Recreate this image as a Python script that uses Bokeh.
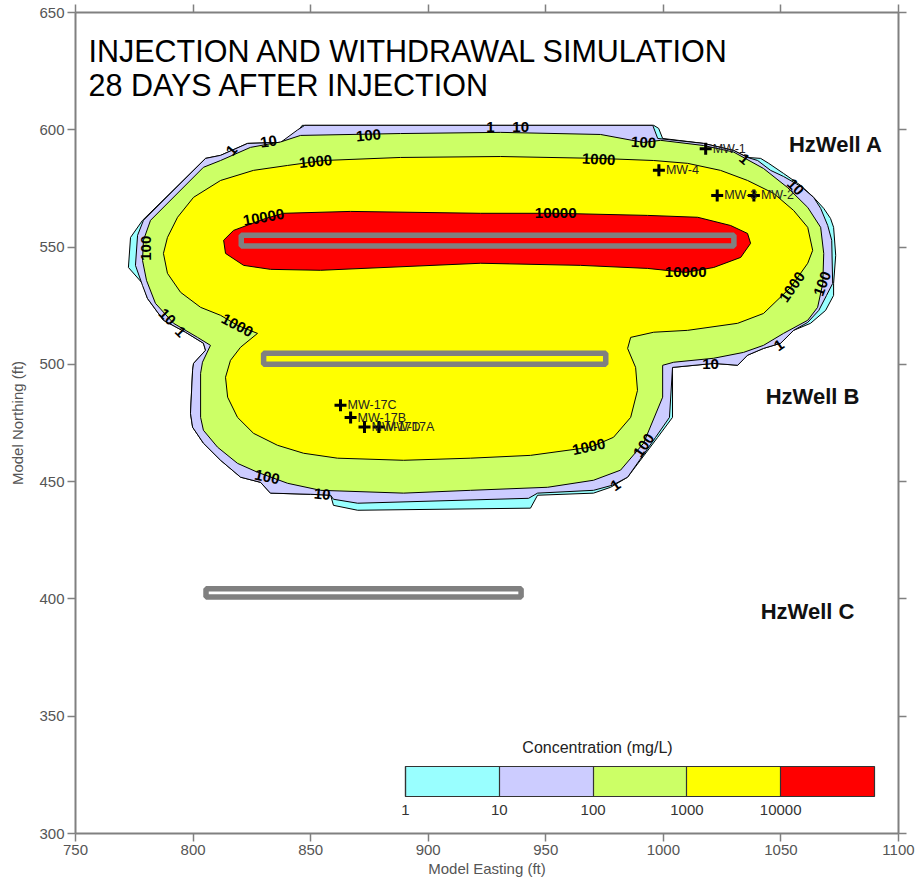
from bokeh.plotting import figure
from bokeh.models import (LinearAxis, Label, ColorBar, LinearColorMapper, FixedTicker, Range1d)
from bokeh.core.properties import value
from bokeh.embed import file_html
from bokeh.resources import INLINE

# ---------------- data ----------------
level_labels = ["1", "10", "100", "1000", "10000"]
band_colors = ["#99FFFF", "#CCCCFF", "#CCFF66", "#FFFF00", "#FF0000"]

# outer edge of the 1 mg/L band
c1_x = [846.4, 995.9, 998.0, 999.7, 1017.1, 1029.9, 1035.8, 1041.4, 1044.8, 1051.1, 1058.4,
        1063.9, 1068.2, 1071.1, 1072.4, 1073.3, 1072.4, 1072.4, 1069.0, 1062.6, 1055.4, 1049.9,
        1042.6, 1035.8, 1031.6, 1021.4, 1003.9, 1003.9, 997.6, 984.8, 977.6, 970.3, 946.5,
        943.5, 870.0, 859.7, 858.5, 850.0, 832.9, 828.7, 820.2, 811.7, 804.4, 799.8, 798.9,
        799.8, 800.2, 805.3, 804.4, 796.8, 787.4, 780.6, 778.5, 772.5, 773.4, 778.5, 805.3,
        811.7, 823.2, 837.2, 842.3]
c1_y = [601.9, 601.9, 600.6, 596.3, 594.2, 591.2, 588.2, 587.8, 585.7, 581.4, 576.3,
        571.2, 566.5, 562.2, 558.4, 546.5, 534.5, 529.4, 523.0, 517.5, 514.5, 509.0,
        506.8, 503.9, 499.6, 500.4, 498.7, 477.4, 468.9, 451.9, 447.6, 445.1, 444.2,
        438.7, 437.8, 439.9, 444.2, 444.6, 445.1, 449.7, 451.9, 459.1, 466.4, 473.2, 479.1,
        497.5, 500.4, 506.0, 509.0, 513.7, 518.8, 528.1, 534.5, 541.3, 554.1, 561.4, 587.8,
        589.1, 594.2, 594.6, 596.3]

# outer edge of the 10 mg/L band
c10_x = [847.5, 995.5, 997.6, 1017.1, 1029.9, 1035.8, 1040.1, 1045.6, 1051.1, 1058.4, 1063.9,
         1066.9, 1069.9, 1071.6, 1072.0, 1069.4, 1066.1, 1061.4, 1055.4, 1049.9, 1042.6,
         1035.8, 1031.6, 1021.4, 1003.9, 1002.6, 996.7, 984.8, 978.4, 970.3, 946.5, 942.7,
         870.0, 859.7, 858.5, 850.0, 832.9, 828.7, 820.2, 811.7, 804.4, 799.8, 798.9, 799.8,
         800.2, 805.3, 804.4, 796.8, 787.4, 780.6, 778.5, 775.5, 776.4, 778.9, 805.3, 811.7,
         823.2, 837.2, 844.5]
c10_y = [601.9, 601.9, 596.3, 594.2, 591.2, 588.2, 586.9, 582.7, 580.1, 575.9, 571.2,
         566.5, 559.2, 552.9, 534.5, 529.4, 523.0, 517.9, 514.5, 509.0, 506.8,
         503.9, 499.6, 500.4, 498.7, 477.4, 468.9, 451.9, 448.5, 446.3, 445.1, 442.9,
         440.8, 442.5, 444.2, 444.6, 445.1, 449.7, 451.9, 459.1, 466.4, 473.2, 479.1, 497.5,
         500.4, 506.0, 509.0, 513.7, 518.8, 528.1, 533.6, 542.2, 555.0, 561.4, 587.8, 589.1,
         594.2, 594.6, 600.0]

# outer edge of the 100 mg/L band
c100_x = [837.2, 845.7, 888.2, 930.8, 973.3, 991.6, 998.8, 1017.1, 1029.9, 1042.6, 1052.8,
          1061.4, 1066.9, 1068.2, 1067.8, 1065.6, 1061.4, 1051.1, 1042.6, 1034.1, 1021.4,
          1004.4, 999.7, 999.7, 991.6, 981.8, 970.3, 950.8, 918.0, 889.5, 854.2, 840.2,
          827.4, 818.9, 810.4, 804.4, 803.2, 803.2, 804.0, 807.4, 801.9, 791.7, 784.0,
          780.2, 778.5, 778.9, 781.9, 804.4, 811.7, 824.4]
c100_y = [594.8, 597.6, 598.4, 598.9, 598.0, 594.6, 595.5, 593.3, 590.5, 583.5, 575.4,
          566.9, 558.4, 547.3, 534.5, 524.3, 518.8, 513.2, 508.1, 505.1, 502.6,
          500.9, 499.6, 486.0, 466.4, 454.9, 450.6, 447.6, 446.3, 445.1, 446.3, 449.3,
          454.0, 457.8, 464.7, 471.9, 477.4, 496.2, 500.9, 508.1, 511.5, 517.5, 526.0,
          535.8, 544.3, 552.9, 561.4, 584.0, 586.9, 592.5]

# outer edge of the 1000 mg/L band
c1000_x = [855.5, 888.2, 930.8, 972.5, 995.9, 1010.3, 1024.3, 1035.8, 1046.9, 1055.4, 1061.4,
           1063.5, 1061.4, 1054.1, 1042.6, 1031.6, 1010.3, 995.9, 986.1, 984.8, 988.2, 989.0,
           986.1, 978.8, 969.1, 943.5, 918.0, 889.5, 861.4, 847.0, 835.9, 825.7, 818.9,
           814.7, 813.8, 815.9, 820.2, 827.4, 818.9, 811.7, 803.2, 794.7, 789.1, 787.4,
           789.1, 793.4, 800.2, 811.7, 825.7, 840.2]
c1000_y = [586.9, 588.2, 588.6, 587.8, 586.9, 585.7, 582.7, 578.4, 572.9, 565.6, 558.4,
           548.6, 543.1, 532.8, 521.7, 517.5, 514.5, 513.7, 511.5, 506.8, 498.7, 488.9,
           477.4, 468.9, 464.7, 461.2, 460.0, 459.1, 460.0, 462.1, 465.5, 470.6, 477.4,
           486.0, 494.5, 501.7, 507.3, 513.2, 516.6, 520.9, 524.3, 530.7, 538.8, 547.3,
           554.1, 562.7, 571.2, 578.4, 582.7, 584.8]

# outer edge of the 10000 mg/L band
c10000_x = [838.5, 867.0, 922.3, 954.2, 993.3, 1014.6, 1028.6, 1035.8, 1037.1, 1032.9, 1021.4,
            1009.5, 993.3, 964.8, 922.3, 854.2, 832.9, 821.5, 813.8, 813.0, 817.2, 830.8]
c10000_y = [564.4, 565.2, 564.4, 564.4, 563.5, 562.7, 559.2, 555.8, 551.6, 545.6, 541.3,
            539.2, 540.9, 542.2, 543.1, 540.1, 540.5, 542.2, 547.3, 552.9, 557.1, 562.2]

# contour labels
clab_text = ["1", "10", "100", "1", "10", "1000", "10000", "10000", "1000", "100", "1", "10",
             "100", "10", "1", "1000", "100", "10", "1000", "100", "1", "10", "1", "1000",
             "100", "10000"]
clab_x = [816.4, 832.1, 874.6, 926.5, 939.3, 852.1, 830.0, 954.2, 972.5, 991.6, 1034.5, 1056.2,
          780.0, 789.0, 794.7, 818.8, 831.5, 854.9, 968.3, 991.7, 979.7, 1020.1, 1049.2, 1054.8,
          1067.6, 1009.5]
clab_y = [591.2, 595.0, 597.6, 601.4, 601.4, 586.5, 562.7, 564.4, 587.4, 594.6, 587.5, 575.6,
          549.5, 520.2, 513.8, 516.6, 452.0, 444.6, 464.8, 465.5, 448.5, 500.3, 508.1, 533.0,
          534.4, 539.3]
clab_angle = [50, 8, 5, 0, 0, 5, 10, 0, -3, -3, -40, -45,
              90, -45, -45, -28, -12, -5, 12, 55, 35, 0, 35, 55,
              70, 0]

# horizontal wells
well_names = ["HzWell A", "HzWell B", "HzWell C"]
well_x0 = [820.5, 830.0, 805.5]
well_x1 = [1030.0, 975.5, 939.5]
well_y0 = [550.5, 500.0, 400.8]
well_y1 = [555.0, 504.7, 404.3]

# monitoring wells
mw_names = ["MW-1", "MW-4", "MW-3", "MW-2", "MW-17C", "MW-17B", "MW-17D", "MW-17A"]
mw_x = [1018.0, 998.1, 1022.9, 1038.5, 862.7, 867.0, 872.9, 879.0]
mw_y = [591.9, 582.7, 572.0, 572.0, 482.6, 477.3, 473.3, 473.3]

x_ticks = [750, 800, 850, 900, 950, 1000, 1050, 1100]
y_ticks = [300, 350, 400, 450, 500, 550, 600, 650]

FONT = "Liberation Sans"

# ---------------- figure ----------------
p = figure(width=915, height=880, x_range=Range1d(750, 1100), y_range=Range1d(300, 650),
           output_backend="svg", toolbar_location=None,
           min_border_left=75, min_border_right=17, min_border_top=12, min_border_bottom=47,
           x_axis_label="Model Easting (ft)", y_axis_label="Model Northing (ft)")
p.grid.visible = False
p.outline_line_color = None
p.background_fill_color = "white"
p.border_fill_color = "white"

bottom_axis = p.below[0]
left_axis = p.left[0]
top_axis = LinearAxis(ticker=FixedTicker(ticks=x_ticks, minor_ticks=[]))
right_axis = LinearAxis(ticker=FixedTicker(ticks=y_ticks, minor_ticks=[]))
p.add_layout(top_axis, "above")
p.add_layout(right_axis, "right")
bottom_axis.ticker = FixedTicker(ticks=x_ticks, minor_ticks=[])
left_axis.ticker = FixedTicker(ticks=y_ticks, minor_ticks=[])

for ax in [bottom_axis, left_axis, top_axis, right_axis]:
    ax.axis_line_color = "#808080"
    ax.axis_line_width = 2
    ax.major_tick_line_color = "#808080"
    ax.major_tick_line_width = 1.5
    ax.major_tick_in = 0
    ax.major_tick_out = 8
    ax.minor_tick_line_color = None
    ax.major_label_text_font = FONT
    ax.major_label_text_font_size = "15px"
    ax.major_label_text_color = "#555555"
    ax.axis_label_text_font = FONT
    ax.axis_label_text_font_size = "15px"
    ax.axis_label_text_font_style = "normal"
    ax.axis_label_text_color = "#555555"

bottom_axis.major_label_standoff = 3
bottom_axis.axis_label_standoff = 2
left_axis.major_label_standoff = 3
left_axis.axis_label_standoff = 10

for ax, ticks in [(top_axis, x_ticks), (right_axis, y_ticks)]:
    ax.major_label_overrides = {t: "" for t in ticks}
    ax.major_label_text_font_size = "1px"
    ax.major_label_standoff = 0

# contour bands
p.patches(xs=[c1_x, c10_x, c100_x, c1000_x, c10000_x],
          ys=[c1_y, c10_y, c100_y, c1000_y, c10000_y],
          fill_color=band_colors, line_color="black", line_width=1)

# contour labels
p.text(x=clab_x, y=clab_y, text=clab_text, angle=clab_angle, angle_units="deg",
       text_align="center", text_baseline="middle", text_font=value(FONT),
       text_font_size="15px", text_font_style="bold", text_color="black")

# horizontal wells
p.quad(left=well_x0, right=well_x1, bottom=well_y0, top=well_y1,
       fill_color=None, line_color="#808080", line_width=5.5)

# monitoring wells
p.scatter(x=mw_x, y=mw_y, marker="cross", size=12, line_width=3, line_color="black")
p.text(x=mw_x, y=mw_y, text=mw_names, x_offset=7, text_baseline="middle",
       text_font=value(FONT), text_font_size="12.5px", text_color="#222222")

# well names
for name, (lx, ly) in zip(well_names, [(1053.4, 593.6), (1043.5, 486.4), (1041.4, 394.8)]):
    p.add_layout(Label(x=lx, y=ly, text=name, text_font=FONT, text_font_size="22px",
                       text_font_style="bold", text_color="#111111",
                       text_baseline="alphabetic"))

# title
p.add_layout(Label(x=13, y=783, x_units="screen", y_units="screen",
                   text="INJECTION AND WITHDRAWAL SIMULATION", text_font=FONT,
                   text_font_size="30.5px", text_color="black", text_baseline="alphabetic"))
p.add_layout(Label(x=13, y=749, x_units="screen", y_units="screen",
                   text="28 DAYS AFTER INJECTION", text_font=FONT,
                   text_font_size="30.5px", text_color="black", text_baseline="alphabetic"))

# colour scale
mapper = LinearColorMapper(palette=band_colors, low=0, high=5)
cb = ColorBar(color_mapper=mapper, orientation="horizontal", width=469, height=30,
              location=(330, 16), padding=0, title=None,
              ticker=FixedTicker(ticks=[0, 1, 2, 3, 4], minor_ticks=[]),
              major_label_overrides={i: t for i, t in enumerate(level_labels)},
              major_label_text_font=FONT, major_label_text_font_size="15px",
              major_label_text_color="#333333", label_standoff=8,
              major_tick_in=30, major_tick_out=0, major_tick_line_color="#333333",
              major_tick_line_width=1.2, minor_tick_line_color=None,
              bar_line_color="#333333", bar_line_width=1.2,
              background_fill_alpha=0, border_line_color=None)
p.add_layout(cb, "center")
p.add_layout(Label(x=522, y=86, x_units="screen", y_units="screen",
                   text="Concentration (mg/L)", text_font=FONT, text_font_size="16px",
                   text_color="#222222", text_align="center", text_baseline="middle"))

open("out.html", "w").write(file_html(p, INLINE))
